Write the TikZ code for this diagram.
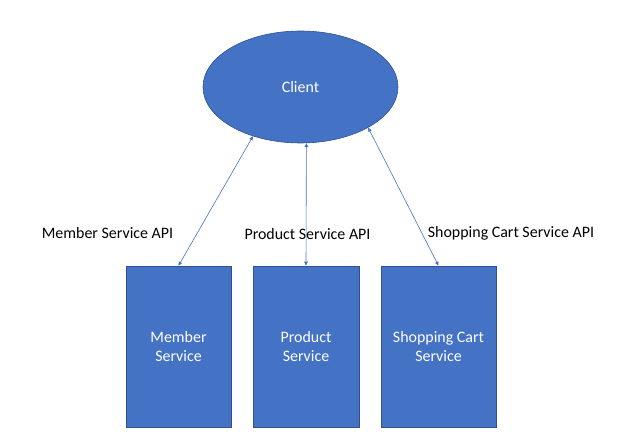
\documentclass[tikz,border=0pt]{standalone}
\usepackage{fontspec}
\setmainfont{Carlito}
\usepackage{xcolor}
\definecolor{offblue}{RGB}{68, 114, 196}
\definecolor{offedge}{RGB}{47, 82, 143}
\usetikzlibrary{arrows.meta, shapes.geometric}

\begin{document}
\begin{tikzpicture}[
    x=1bp, y=-1bp,
    font=\fontsize{16}{20}\selectfont,
    box/.style={draw=offedge, fill=offblue, text=white, align=center,
                minimum height=161bp, inner sep=0pt, line width=0.6pt},
    client/.style={ellipse, draw=offedge, fill=offblue, text=white,
                   minimum width=195bp, minimum height=112bp, line width=0.6pt},
    arr/.style={{Triangle[length=4pt, width=3.5pt]}-{Triangle[length=4pt, width=3.5pt]},
                offblue, line width=0.6pt},
    lbl/.style={text=black, inner sep=0pt}
  ]
  \useasboundingbox (0,0) rectangle (630,438);
  \node[client] (client) at (300.5,87) {Client};
  \node[box, minimum width=105bp] (member) at (178.5,346.5) {Member\\Service};
  \node[box, minimum width=106bp] (product) at (306,346.5) {Product\\Service};
  \node[box, minimum width=115bp] (cart) at (438.5,346.5) {Shopping Cart\\Service};

  \node[lbl] (memberapi) at (107.5,233) {Member Service API};
  \node[lbl] (productapi) at (307.5,234) {Product Service API};
  \node[lbl] (cartapi) at (511,233) {Shopping Cart Service API};

  \draw[arr] (client.-134.7) -- (member.north);
  \draw[arr] (client.-84.5) -- (product.north);
  \draw[arr] (client.-31) -- (cart.north);
\end{tikzpicture}
\end{document}
